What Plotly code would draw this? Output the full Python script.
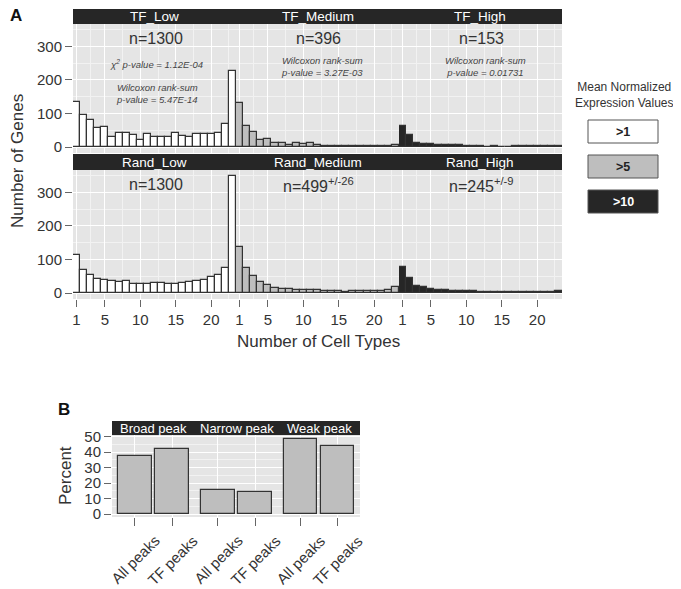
import plotly.graph_objects as go

# page body has an 8px default margin: the figure is sized to fill the window exactly
OFF = 8
W, H = 681 - OFF, 589 - OFF

# ---------------- data ----------------
cells = list(range(1, 24))
tf_low = [135, 96, 82, 57, 60, 29, 42, 42, 36, 22, 38, 30, 30, 30, 43, 33, 30, 38, 38, 40, 41, 70, 227]
tf_medium = [131, 63, 46, 20, 23, 12, 12, 7, 11, 9, 11, 7, 4, 3, 3, 2, 2, 2, 2, 2, 3, 4, 6]
tf_high = [62, 35, 12, 10, 8, 7, 7, 5, 5, 4, 4, 4, 0, 4, 0, 0, 3, 3, 3, 3, 3, 2, 2]
rand_low = [114, 69, 54, 42, 40, 35, 33, 36, 27, 27, 27, 30, 30, 27, 27, 31, 33, 37, 39, 48, 53, 76, 349]
rand_medium = [136, 76, 50, 33, 23, 14, 13, 12, 8, 9, 9, 8, 5, 7, 5, 4, 6, 5, 5, 7, 5, 9, 18]
rand_high = [79, 45, 22, 18, 13, 9, 8, 7, 7, 5, 5, 4, 4, 4, 3, 3, 3, 3, 3, 3, 4, 4, 6]

facet_labels_a = ["TF_Low", "TF_Medium", "TF_High", "Rand_Low", "Rand_Medium", "Rand_High"]
n_labels = ["n=1300", "n=396", "n=153", "n=1300", "n=499<sup>+/-26</sup>", "n=245<sup>+/-9</sup>"]
x_ticks_a = [1, 5, 10, 15, 20]
y_ticks_a = [0, 100, 200, 300]

peak_types = ["Broad peak", "Narrow peak", "Weak peak"]
peak_sets = ["All peaks", "TF peaks"]
percent_all = [37.3, 15.5, 48.3]
percent_tf = [42.3, 14.4, 44.2]
y_ticks_b = [0, 10, 20, 30, 40, 50]

legend_labels = [">1", ">5", ">10"]

# ---------------- styles ----------------
FONT = "Liberation Sans, Arial, Helvetica, sans-serif"
PANEL_BG = "#E5E5E5"
STRIP_BG = "#262626"
MINOR_GRID = "#F2F2F2"
TXT = "#333333"
TICKC = "#666666"
fills = ["#FFFFFF", "#BEBEBE", "#262626"]
OUTLINE = "#333333"


def px(x):
    return (x - OFF) / W


def py(y):
    return 1 - (y - OFF) / H


fig = go.Figure()

series_a = [tf_low, tf_medium, tf_high, rand_low, rand_medium, rand_high]
col_x = [(73, 236), (236, 399), (399, 562)]
row_y = [(24, 153), (170, 299)]
strip_y = [(9, 24), (154, 170)]

layout = dict()
shapes = []
annotations = []

for i, vals in enumerate(series_a):
    r, c = divmod(i, 3)
    k = i + 1
    xa = "x" if k == 1 else f"x{k}"
    ya = "y" if k == 1 else f"y{k}"
    fig.add_trace(go.Bar(
        x=cells, y=vals, width=1.0, xaxis=xa, yaxis=ya,
        marker=dict(color=fills[c], line=dict(color=OUTLINE, width=1.2)),
        showlegend=False, hoverinfo="x+y"))
    x0, x1 = col_x[c]
    y0, y1 = row_y[r]
    layout[f"xaxis{k if k > 1 else ''}"] = dict(
        domain=[px(x0), px(x1)], range=[0.5, 23.5], anchor=ya, automargin=False,
        tickvals=x_ticks_a, showticklabels=(r == 1),
        ticks="outside" if r == 1 else "", ticklen=7, tickcolor=TICKC, tickwidth=1,
        tickfont=dict(family=FONT, size=15, color=TXT),
        showgrid=True, gridcolor="white", gridwidth=1.2, zeroline=False,
        showline=False, fixedrange=True,
        minor=dict(tickvals=[3, 7.5, 12.5, 17.5, 22.5], showgrid=True,
                   gridcolor=MINOR_GRID, gridwidth=0.6, ticks=""))
    layout[f"yaxis{k if k > 1 else ''}"] = dict(
        domain=[py(y1), py(y0)], range=[-17.5, 366.5], anchor=xa, automargin=False,
        tickvals=y_ticks_a, showticklabels=(c == 0),
        ticks="outside" if c == 0 else "", ticklen=7, tickcolor=TICKC, tickwidth=1,
        tickfont=dict(family=FONT, size=15, color=TXT),
        showgrid=True, gridcolor="white", gridwidth=1.2, zeroline=False,
        showline=False, fixedrange=True,
        minor=dict(tickvals=[50, 150, 250, 350], showgrid=True,
                   gridcolor=MINOR_GRID, gridwidth=0.6, ticks=""))
    # panel background
    shapes.append(dict(type="rect", xref="paper", yref="paper",
                       x0=px(x0), x1=px(x1), y0=py(y1), y1=py(y0),
                       fillcolor=PANEL_BG, line=dict(width=0), layer="below"))
    # strip
    sy0, sy1 = strip_y[r]
    shapes.append(dict(type="rect", xref="paper", yref="paper",
                       x0=px(x0), x1=px(x1), y0=py(sy1), y1=py(sy0),
                       fillcolor=STRIP_BG, line=dict(width=0)))
    annotations.append(dict(xref="paper", yref="paper", x=px((x0 + x1) / 2), y=py((sy0 + sy1) / 2 + 0.5),
                            text=facet_labels_a[i], showarrow=False,
                            font=dict(family=FONT, size=13.5, color="white"),
                            xanchor="center", yanchor="middle"))
    # n labels
    annotations.append(dict(xref="paper", yref="paper", x=px((x0 + x1) / 2 + 1), y=py(y0 + 15),
                            text=n_labels[i], showarrow=False,
                            font=dict(family=FONT, size=16, color=TXT),
                            xanchor="center", yanchor="middle"))

# p-value texts
stat_texts = [
    (156, 64, "<i>χ<sup>2</sup> p-value = 1.12E-04</i>"),
    (157, 93, "<i>Wilcoxon rank-sum<br>p-value = 5.47E-14</i>"),
    (322, 66, "<i>Wilcoxon rank-sum<br>p-value = 3.27E-03</i>"),
    (485, 66, "<i>Wilcoxon rank-sum<br>p-value = 0.01731</i>"),
]
for x, y, t in stat_texts:
    annotations.append(dict(xref="paper", yref="paper", x=px(x), y=py(y), text=t,
                            showarrow=False, font=dict(family=FONT, size=9.5, color="#444444"),
                            xanchor="center", yanchor="middle", align="center"))

# axis titles A
annotations.append(dict(xref="paper", yref="paper", x=px(17), y=py(161), text="Number of Genes",
                        textangle=-90, showarrow=False,
                        font=dict(family=FONT, size=17, color=TXT), xanchor="center", yanchor="middle"))
annotations.append(dict(xref="paper", yref="paper", x=px(318), y=py(341), text="Number of Cell Types",
                        showarrow=False, font=dict(family=FONT, size=17, color=TXT),
                        xanchor="center", yanchor="middle"))
annotations.append(dict(xref="paper", yref="paper", x=px(16), y=py(15), text="<b>A</b>",
                        showarrow=False, font=dict(family=FONT, size=17, color="#111111"),
                        xanchor="center", yanchor="middle"))

# legend
annotations.append(dict(xref="paper", yref="paper", x=px(624), y=py(95),
                        text="Mean Normalized<br>Expression Values", showarrow=False,
                        font=dict(family=FONT, size=12, color=TXT), xanchor="center", yanchor="middle",
                        align="center"))
leg_y = [(120, 143), (155, 178), (190, 213)]
for j, lab in enumerate(legend_labels):
    a, b = leg_y[j]
    shapes.append(dict(type="rect", xref="paper", yref="paper",
                       x0=px(588), x1=px(658), y0=py(b), y1=py(a),
                       fillcolor=fills[j], line=dict(color="#555555", width=1)))
    annotations.append(dict(xref="paper", yref="paper", x=px(623), y=py((a + b) / 2),
                            text=f"<b>{lab}</b>", showarrow=False,
                            font=dict(family=FONT, size=12.5, color="white" if j == 2 else "#222222"),
                            xanchor="center", yanchor="middle"))

# ---------------- panel B ----------------
bx = [(112, 195), (195, 278), (278, 360)]
by0, by1 = 435, 517
xr_b = (-0.6, 1.6)
for j, pt in enumerate(peak_types):
    k = 7 + j
    xa, ya = f"x{k}", f"y{k}"
    fig.add_trace(go.Bar(
        x=peak_sets, y=[percent_all[j], percent_tf[j]], width=0.9, xaxis=xa, yaxis=ya,
        marker=dict(color="#BEBEBE", line=dict(color=OUTLINE, width=1.2)),
        showlegend=False, hoverinfo="x+y"))
    x0, x1 = bx[j]
    layout[f"xaxis{k}"] = dict(
        domain=[px(x0), px(x1)], range=list(xr_b), anchor=ya, type="category", automargin=False,
        categoryorder="array", categoryarray=peak_sets, showticklabels=False,
        ticks="outside", ticklen=8, tickcolor=TICKC, tickwidth=1,
        showgrid=True, gridcolor="white", gridwidth=1.2, zeroline=False, showline=False,
        fixedrange=True)
    layout[f"yaxis{k}"] = dict(
        domain=[py(by1), py(by0)], range=[-1.8, 51], anchor=xa, automargin=False,
        tickvals=y_ticks_b, showticklabels=(j == 0),
        ticks="outside" if j == 0 else "", ticklen=7, tickcolor=TICKC, tickwidth=1,
        tickfont=dict(family=FONT, size=15, color=TXT),
        showgrid=True, gridcolor="white", gridwidth=1.2, zeroline=False, showline=False,
        fixedrange=True,
        minor=dict(tickvals=[5, 15, 25, 35, 45], showgrid=True,
                   gridcolor=MINOR_GRID, gridwidth=0.6, ticks=""))
    shapes.append(dict(type="rect", xref="paper", yref="paper",
                       x0=px(x0), x1=px(x1), y0=py(by1), y1=py(by0),
                       fillcolor=PANEL_BG, line=dict(width=0), layer="below"))
    shapes.append(dict(type="rect", xref="paper", yref="paper",
                       x0=px(x0), x1=px(x1), y0=py(by0), y1=py(421),
                       fillcolor=STRIP_BG, line=dict(width=0)))
    annotations.append(dict(xref="paper", yref="paper", x=px((x0 + x1) / 2), y=py(428.5),
                            text=pt, showarrow=False,
                            font=dict(family=FONT, size=13, color="white"),
                            xanchor="center", yanchor="middle"))
    # rotated category labels
    for ci, lab in enumerate(peak_sets):
        tx = x0 + (ci - xr_b[0]) / (xr_b[1] - xr_b[0]) * (x1 - x0)
        annotations.append(dict(xref="paper", yref="paper", x=px(tx + 31), y=py(529),
                                text=lab, textangle=-45, showarrow=False,
                                font=dict(family=FONT, size=15, color=TXT),
                                xanchor="right", yanchor="top"))

annotations.append(dict(xref="paper", yref="paper", x=px(65), y=py(476), text="Percent",
                        textangle=-90, showarrow=False,
                        font=dict(family=FONT, size=17, color=TXT), xanchor="center", yanchor="middle"))
annotations.append(dict(xref="paper", yref="paper", x=px(64), y=py(409), text="<b>B</b>",
                        showarrow=False, font=dict(family=FONT, size=17, color="#111111"),
                        xanchor="center", yanchor="middle"))

fig.update_layout(
    width=W, height=H, autosize=False,
    margin=dict(l=0, r=0, t=0, b=0, pad=0, autoexpand=False),
    paper_bgcolor="white", plot_bgcolor="rgba(0,0,0,0)",
    bargap=0, showlegend=False,
    shapes=shapes, annotations=annotations,
    font=dict(family=FONT, color=TXT),
    **layout)

fig.write_html("out.html")
